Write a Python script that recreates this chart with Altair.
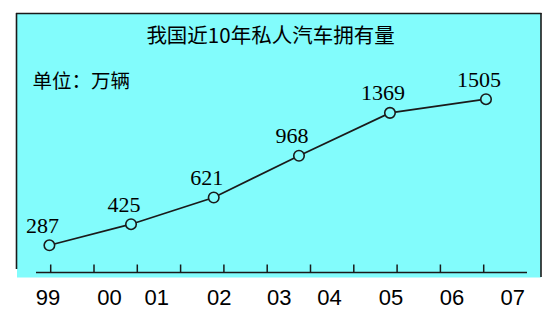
import altair as alt
import pandas as pd

# ---- data ----
title_text = "我国近10年私人汽车拥有量"
unit_text = "单位：万辆"
values = [287, 425, 621, 968, 1369, 1505]
point_pos = [-0.03, 1.855, 3.765, 5.734, 7.835, 10.053]   # position along the x axis (tick units)
tick_pos = [0, 1, 2, 3, 4, 5, 6, 7, 8, 9, 10]
year_labels = ["99", "00", "01", "02", "03", "04", "05", "06", "07"]
year_label_pos = [-0.06, 1.36, 2.45, 3.89, 5.28, 6.44, 7.86, 9.27, 10.67]

W, H = 554, 312
CYAN = "#82FCFC"
INK = "#1a1a1a"

pts = pd.DataFrame({"pos": point_pos, "val": values, "lab": [str(v) for v in values]})
ticks = pd.DataFrame({"pos": tick_pos})
ylabs = pd.DataFrame({"pos": year_label_pos, "lab": year_labels})

xs = alt.Scale(domain=[-1.1709, 11.6235], nice=False, zero=False)
ys = alt.Scale(type="pow", exponent=0.7, domain=[0, 2600], nice=False, zero=False)

one = pd.DataFrame({"k": [0]})

frame_fill = alt.Chart(one).mark_rect(color=CYAN).encode(
    x=alt.value(17), x2=alt.value(541), y=alt.value(13), y2=alt.value(277.5))
border_top = alt.Chart(one).mark_rule(color=INK, strokeWidth=1.6).encode(
    x=alt.value(16), x2=alt.value(541.5), y=alt.value(13.5))
border_left = alt.Chart(one).mark_rule(color=INK, strokeWidth=1.6).encode(
    x=alt.value(16.5), y=alt.value(13), y2=alt.value(269))
border_right = alt.Chart(one).mark_rule(color=INK, strokeWidth=1.6).encode(
    x=alt.value(541), y=alt.value(13), y2=alt.value(277))
axis_line = alt.Chart(one).mark_rule(color=INK, strokeWidth=1.5).encode(
    x=alt.value(36), x2=alt.value(527), y=alt.value(272.5))

tick_marks = alt.Chart(ticks).mark_rule(color=INK, strokeWidth=1.5).encode(
    x=alt.X("pos:Q", scale=xs, axis=None),
    y=alt.value(264.5), y2=alt.value(272.5))

year_text = alt.Chart(ylabs).mark_text(
    font="Liberation Sans", fontSize=22, color="#000000", baseline="middle", align="center"
).encode(x=alt.X("pos:Q", scale=xs, axis=None), y=alt.value(297.5), text="lab:N")

line = alt.Chart(pts).mark_line(color=INK, strokeWidth=1.7).encode(
    x=alt.X("pos:Q", scale=xs, axis=None),
    y=alt.Y("val:Q", scale=ys, axis=None))

dots = alt.Chart(pts).mark_point(
    shape="circle", filled=True, fill=CYAN, stroke=INK, strokeWidth=1.6, size=110, opacity=1
).encode(x=alt.X("pos:Q", scale=xs, axis=None), y=alt.Y("val:Q", scale=ys, axis=None))

val_text = alt.Chart(pts).mark_text(
    font="Liberation Serif", fontSize=22, color="#000000", align="center",
    baseline="alphabetic", dx=-7, dy=-12.5
).encode(x=alt.X("pos:Q", scale=xs, axis=None), y=alt.Y("val:Q", scale=ys, axis=None), text="lab:N")

title = alt.Chart(one).mark_text(
    text=title_text, font="Noto Sans CJK SC", fontSize=20.5, color="#000000",
    align="center", baseline="middle"
).encode(x=alt.value(270.5), y=alt.value(36.5))

unit = alt.Chart(one).mark_text(
    text=unit_text, font="Noto Sans CJK SC", fontSize=19.5, color="#000000",
    align="left", baseline="middle"
).encode(x=alt.value(32.5), y=alt.value(81.5))

chart = alt.layer(
    frame_fill, border_top, border_left, border_right, axis_line, tick_marks,
    year_text, line, dots, val_text, title, unit
).properties(
    width=W, height=H, autosize=alt.AutoSizeParams(type="none"), padding=0,
    background="#ffffff"
).configure_view(stroke=None)

chart.save("out.html", embed_options={"renderer": "svg", "actions": False})
